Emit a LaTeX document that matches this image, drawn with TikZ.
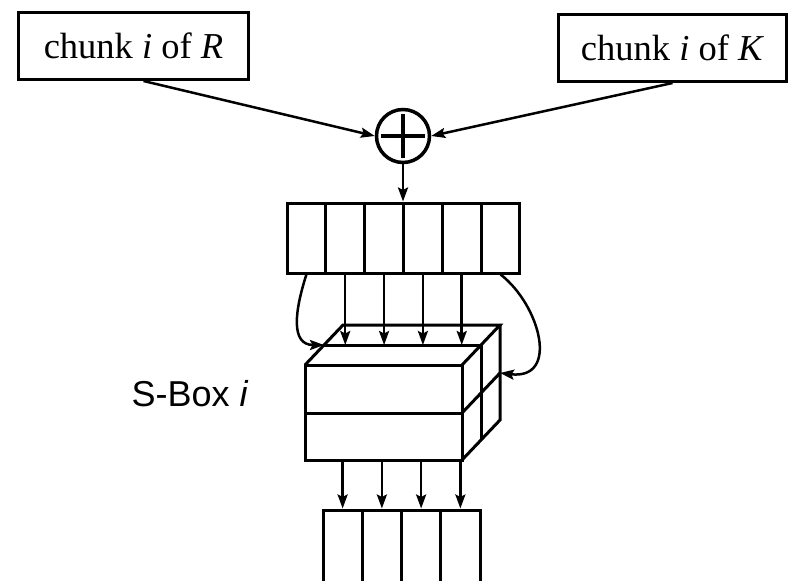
\documentclass[tikz,border=0pt]{standalone}
\usepackage{fontspec}
\setmainfont{Liberation Serif}
\newfontfamily\labelsans{Liberation Sans}
\usetikzlibrary{arrows.meta}
\begin{document}
\begin{tikzpicture}[x=1pt,y=-1pt,
  outline/.style={draw=black, line width=3pt},
  chunkbox/.style={outline, rectangle, minimum width=230pt, minimum height=67pt,
    inner sep=0pt, font=\fontsize{36.5}{40}\selectfont},
  cell/.style={outline, rectangle, minimum height=70pt, inner sep=0pt},
  flow/.style={draw=black, line width=2.5pt, -{Stealth[length=14pt,width=10pt,inset=2.5pt]}},
]
\useasboundingbox[fill=white] (0,0) rectangle (790,581);

% input chunks and the XOR
\node[chunkbox] (R) at (133.5,46) {chunk \textit{i} of \textit{R}};
\node[chunkbox, minimum width=228pt] (K) at (672.5,48) {chunk \textit{i} of \textit{K}};
\node[outline, line width=3.5pt, circle, minimum size=53pt, inner sep=0pt] (xor) at (403,136) {};
\draw[line width=3.5pt] (xor.center) ++(-22,0) -- ++(44,0);
\draw[line width=3.5pt] (xor.center) ++(0,-22) -- ++(0,44);

% six-bit input register
\foreach \i in {1,...,6}
  \node[cell, minimum width=38.83pt] (r\i) at ({287+38.83*(\i-0.5)},238) {};

% four-bit output register
\foreach \i in {1,...,4}
  \node[cell, minimum width=39.25pt, minimum height=80pt] (b\i) at ({323+39.25*(\i-0.5)},550) {};

% S-box drawn as a block: front face, top face and right face
\coordinate (ftl) at (305,365);
\coordinate (ftr) at (462,365);
\coordinate (fbr) at (462,460);
\coordinate (fbl) at (305,460);
\coordinate (fml) at (305,413);
\coordinate (fmr) at (462,413);
\coordinate (btl) at (343,325);
\coordinate (btr) at (500,325);
\coordinate (bmr) at (500,373);
\coordinate (bbr) at (500,420);
\coordinate (mtl) at (324,345);
\coordinate (mtr) at (481,345);
\coordinate (mbr) at (481,440);

\draw[outline] (ftl) rectangle (fbr);
\draw[outline] (fml) -- (fmr);
\draw[outline, line join=miter] (ftl) -- (btl) -- (btr) -- (ftr);
\draw[outline] (btr) -- (bbr) -- (fbr);
\draw[outline] (fmr) -- (bmr);
\draw[outline] (mtl) -- (mtr) -- (mbr);

\node[font=\labelsans\fontsize{36}{40}\selectfont] (sbox) at (190,394) {S-Box \textit{i}};

% connectors
\draw[flow] ([xshift=10pt]R.south) -- (xor.west);
\draw[flow] (K.south) -- (xor.east);
\draw[flow] (xor.south) -- (xor.south |- r3.north);
\foreach \i in {2,...,5}
  \draw[flow] (r\i.south) -- (r\i.south |- mtl);
\draw[flow] (r1.south) .. controls (295,310) and (290,345) .. (mtl);
\draw[flow] (r6.south) .. controls (540,305) and (560,380) .. (bmr);
\foreach \i in {1,...,4}
  \draw[flow] (b\i.north |- fbl) -- (b\i.north);
\end{tikzpicture}
\end{document}
